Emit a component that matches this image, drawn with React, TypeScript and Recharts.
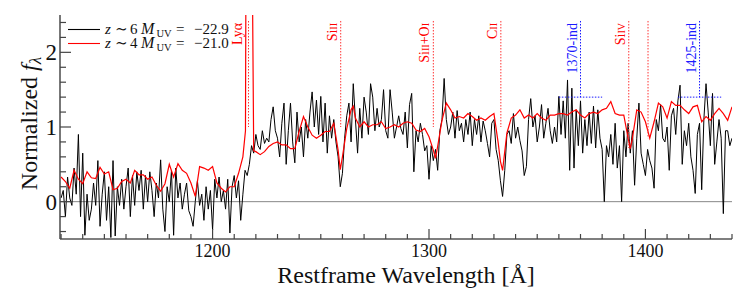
import React from 'react';
import { ComposedChart, Line, XAxis, YAxis, ReferenceLine } from 'recharts';

// ---------- data ----------
// z~6 composite (black), 1 Å grid starting at 1130 Å
const blackStart = 1130;
const blackFlux = [
  0.05, 0.15, -0.2, 0.33, 0.05, -0.05, 0.45, 0.1, 0.9, -0.2,
  0.65, -0.45, 0.1, -0.25, -0.1, 0.25, -0.05, 0.55, -0.33, 0.1,
  0.4, -0.25, 0.2, -0.48, 0.55, -0.46, 0.2, -0.05, 0.3, -0.1,
  0.2, 0.45, -0.2, 0.35, -0.05, 0.4, 0.15, 0.42, -0.1, 0.35,
  0.0, 0.4, 0.15, -0.2, 0.25, 0.05, 0.56, -0.1, -0.4, 0.2,
  0.0, 0.42,
  -0.45, 0.45, 0.05, 0.25, -0.1, 0.1, 0.25, -0.12, -0.2, -0.33,
  0.0, 0.28, -0.05, 0.1, -0.25, 0.2, -0.1, 0.15, -0.38, 0.3,
  0.05, 0.33, 0.0, 0.15, -0.1, 0.3, -0.42, 0.2, 0.35, 0.05,
  0.28, -0.25, 0.1, 0.42, 0.35, 0.5, 0.75, 0.65, 0.9, 0.75,
  0.7, 0.95, 0.78, 0.85, 0.8, 1.1, 1.27, 0.95, 0.85, 0.6,
  1.05, 1.32,
  0.5, 0.95, 1.32, 0.8, 0.52, 1.2, 0.8, 1.0, 0.6, 1.1,
  0.85, 1.2, 1.47, 1.0, 1.36, 0.9, 1.41, 0.8, 1.32, 0.65,
  1.15, 0.85, 1.1, 0.8, 0.6, 0.2, 0.38, 0.85, 1.15, 1.32,
  0.8, 1.58, 1.1, 0.65, 1.25, 0.85, 1.4, 1.2, 0.9, 1.58,
  1.4, 0.95, 1.25, 1.0, 1.1, 1.5, 0.95, 0.85, 1.5, 1.2,
  0.85,
  1.0, 1.15, 0.98, 0.9, 1.2, 0.72, 1.3, 1.45, 0.4, 0.95,
  0.8, 1.05, 0.9, 0.68, 0.75, 0.3, 0.75, 0.55, 0.7, 0.42,
  0.95, 1.1, 1.65, 1.1, 0.9, 1.0, 1.2, 0.85, 1.22, 0.95,
  1.05, 0.8, 1.1, 0.9, 1.2, 0.75, 1.1, 0.9, 1.15, 0.8,
  1.08, 0.95, 0.78, 0.6, 1.05, 1.1, 0.7, 0.55, 0.28, 0.07,
  0.42, 0.9,
  0.95, 0.78, 1.18, 0.85, 1.0, 0.82, 0.68, 0.35, 0.47, 1.1,
  1.38, 1.0, 1.15, 0.8, 1.0, 1.3, 0.85, 1.05, 1.25, 0.95,
  0.78, 1.0, 0.8, 1.41, 0.9, 1.35, 0.85, 1.63, 0.42, 1.52,
  0.45, 1.23, 0.75, 1.35, 0.65, 1.1, 0.75, 1.2, 0.78, 1.28,
  0.72, 1.23, 0.85, 0.7, 0.0, 0.75, 0.6, 0.9, 0.5, 1.05,
  0.45, 0.75,
  0.0, 0.95, 0.6, 1.05, 0.65, 0.95, 0.22, 0.85, 1.32, 0.65,
  0.5, 0.35, 0.7, 0.55, 0.45, 0.18, 1.1, 0.95, 1.3, 0.85,
  0.8, 1.0, 0.42, 1.15, 1.25, 0.9, 1.35, 1.56, 0.5, 0.95,
  0.75, 1.05, 0.6, 0.42, 0.11, 0.9, 1.05, 0.16, 1.1, 1.58,
  1.2, 0.75, 1.45, 0.5, 0.8, 1.1, 0.85, -0.16, 0.95, 0.95,
  0.75, 0.85,
];

// z~4 composite (red)
const redWave = [
  1130, 1132, 1134, 1136, 1138, 1140, 1142, 1144, 1146, 1148,
  1150, 1152, 1154, 1156, 1158, 1160, 1162, 1164, 1166, 1168,
  1170, 1172, 1174, 1176, 1178, 1180, 1182, 1184, 1186, 1188,
  1190, 1192, 1194, 1196, 1198, 1200, 1202, 1204, 1206, 1208,
  1210, 1212, 1214, 1215.2, 1215.7, 1217.6, 1219, 1220, 1222, 1224,
  1226, 1228, 1230, 1232, 1234, 1236, 1238, 1240, 1242, 1244,
  1246, 1248, 1250, 1252, 1254, 1256, 1258, 1259, 1260, 1262,
  1264, 1265, 1266, 1268, 1270, 1272, 1274, 1276, 1278, 1280,
  1282, 1284, 1286, 1288, 1290, 1292, 1294, 1296, 1298, 1300,
  1302, 1303, 1304, 1306, 1308, 1310, 1312, 1314, 1316, 1318,
  1320, 1322, 1324, 1326, 1328, 1330, 1332, 1333, 1334, 1336,
  1338, 1340, 1342, 1344, 1346, 1348, 1350, 1352, 1354, 1356,
  1358, 1360, 1362, 1364, 1366, 1368, 1370, 1372, 1374, 1376,
  1378, 1380, 1382, 1384, 1386, 1388, 1390, 1392, 1393, 1394,
  1396, 1398, 1400, 1402, 1404, 1406, 1408, 1410, 1412, 1414,
  1416, 1418, 1420, 1422, 1424, 1426, 1428, 1430, 1432, 1434,
  1436, 1438, 1440,
];
const redFlux = [
  0.33, 0.27, 0.18, 0.42, 0.30, 0.24, 0.40, 0.32, 0.31, 0.46,
  0.37, 0.40, 0.16, 0.18, 0.27, 0.30, 0.25, 0.42, 0.36, 0.36,
  0.30, 0.33, 0.22, 0.14, 0.24, 0.50, 0.33, 0.51, 0.42, 0.38,
  0.25, 0.07, 0.47, 0.45, 0.42, 0.47, 0.25, 0.18, 0.13, 0.20,
  0.20, 0.38, 0.60, 0.95, 6.0, 6.0, 0.68, 0.67, 0.63, 0.67,
  0.74, 0.78, 0.80, 0.76, 0.76, 0.71, 0.71, 0.94, 1.14, 1.00,
  0.89, 0.85, 0.89, 0.94, 0.94, 1.05, 0.69, 0.43, 0.60, 0.98,
  1.23, 1.28, 1.12, 1.00, 1.07, 1.00, 1.03, 1.03, 1.07, 0.98,
  1.00, 1.03, 1.00, 1.05, 1.07, 1.05, 0.96, 0.94, 0.98, 0.87,
  0.69, 0.58, 0.74, 1.09, 1.32, 1.23, 1.12, 1.14, 1.12, 1.18,
  1.14, 1.09, 1.12, 1.09, 1.14, 1.18, 0.78, 0.54, 0.42, 0.92,
  1.12, 1.16, 1.23, 1.12, 1.16, 1.12, 1.18, 1.12, 1.09, 1.16,
  1.16, 1.18, 1.18, 1.16, 1.20, 1.23, 1.16, 1.12, 1.18, 1.20,
  1.18, 1.23, 1.25, 1.34, 1.18, 1.16, 1.16, 0.85, 0.71, 0.85,
  1.23, 1.20, 1.07, 0.85, 1.07, 1.32, 1.27, 1.12, 1.34, 1.29,
  1.29, 1.23, 1.18, 1.27, 1.29, 1.07, 1.14, 1.09, 1.18, 1.25,
  1.18, 1.09, 1.27,
];

const xDomain = [1129.5, 1440];
const yDomain = [-0.5, 2.5];
const xTicks = [
  1130, 1140, 1150, 1160, 1170, 1180, 1190, 1200, 1210, 1220, 1230, 1240,
  1250, 1260, 1270, 1280, 1290, 1300, 1310, 1320, 1330, 1340, 1350, 1360,
  1370, 1380, 1390, 1400, 1410, 1420, 1430, 1440,
];
const xMajor = [1200, 1300, 1400];
const yTicks = [-0.4, -0.2, 0, 0.2, 0.4, 0.6, 0.8, 1, 1.2, 1.4, 1.6, 1.8, 2, 2.2, 2.4];
const yMajor = [0, 1, 2];

// legend entries
const legendRows = [
  { z: '6', muv: '−22.9', color: '#000000' },
  { z: '4', muv: '−21.0', color: '#ff0000' },
];

// line identifications
const lineMarks = [
  { wave: 1216.6, top: 2.42, bottom: 1.0, dx: -7, parts: [['Lyα', false]] },
  { wave: 1259.2, top: 2.42, bottom: 1.0, dx: -4, parts: [['Si', false], ['II', true]] },
  { wave: 1302.0, top: 2.42, bottom: 1.0, dx: -4, parts: [['Si', false], ['II', true], ['+O', false], ['I', true]] },
  { wave: 1333.2, top: 2.42, bottom: 1.0, dx: -4, parts: [['C', false], ['II', true]] },
  { wave: 1392.3, top: 2.42, bottom: 0.72, dx: -4, parts: [['Si', false], ['IV', true]] },
  { wave: 1401.2, top: 2.42, bottom: 0.85, dx: -4, parts: [] as any[] },
];
const indexMarks = [
  { wave: 1370, lo: 1360, hi: 1380, top: 2.42, level: 1.4, label: '1370-ind' },
  { wave: 1425, lo: 1415, hi: 1435, top: 2.42, level: 1.4, label: '1425-ind' },
];

const blackData = blackFlux.map((v, i) => ({ x: blackStart + i, y: v }));
const redData = redWave.map((w, i) => ({ x: w, y: redFlux[i] }));

const SERIF = "'Liberation Serif', 'DejaVu Serif', serif";
const serif = { fontFamily: SERIF };
const RED = '#ff0000';
const BLUE = '#1a1aff';
const AXIS = '#555555';

const YTick = (props: any) => {
  const { x, y, payload } = props;
  const major = yMajor.includes(payload.value);
  return (
    <g>
      <line x1={x} x2={x + (major ? 11 : 6)} y1={y} y2={y} stroke="#444" strokeWidth={1.2} />
      {major && (
        <text x={x - 3} y={y + 8} textAnchor="end" fontSize={23} style={serif} fill="#111">
          {payload.value}
        </text>
      )}
    </g>
  );
};

const XTick = (props: any) => {
  const { x, y, payload } = props;
  const major = xMajor.includes(payload.value);
  return (
    <g>
      <line x1={x} x2={x} y1={y} y2={y - (major ? 10 : 5)} stroke="#444" strokeWidth={1.2} />
      {major && (
        <text x={x} y={y + 18} textAnchor="middle" fontSize={18} style={serif} fill="#111">
          {payload.value}
        </text>
      )}
    </g>
  );
};

const makeLineLabel = (parts: any[], color: string, dx: number) => (props: any) => {
  const vb = props.viewBox || {};
  const x = (vb.x ?? 0) + dx;
  const y = (vb.y ?? 0) + 2;
  return (
    <text
      transform={`translate(${x},${y}) rotate(-90)`}
      textAnchor="end"
      fill={color}
      fontSize={14}
      style={serif}
    >
      {parts.map((p: any, i: number) => (
        <tspan key={i} fontSize={p[1] ? 10 : 14}>
          {p[0]}
        </tspan>
      ))}
    </text>
  );
};

const LegendRow = ({ row, y }: any) => (
  <g style={serif} fill="#111">
    <line x1={68} x2={100} y1={y - 4.5} y2={y - 4.5} stroke={row.color} strokeWidth={1.1} />
    <text x={105} y={y} fontSize={15} fontStyle="italic">z</text>
    <text x={115} y={y} fontSize={15}>∼</text>
    <text x={130} y={y} fontSize={15}>{row.z}</text>
    <text x={141} y={y} fontSize={16} fontStyle="italic">M</text>
    <text x={156.5} y={y + 2.5} fontSize={10.5}>UV</text>
    <text x={176} y={y} fontSize={15}>=</text>
    <text x={194} y={y} fontSize={15}>{row.muv}</text>
  </g>
);

export default function App() {
  return (
    <div style={{ position: 'absolute', left: 0, top: 0, width: 747, height: 299, background: '#fff' }}>
      <ComposedChart width={747} height={299} margin={{ top: 15, right: 15, bottom: 0, left: 0 }}>
        <XAxis
          type="number"
          dataKey="x"
          domain={xDomain}
          allowDataOverflow
          ticks={xTicks}
          interval={0}
          height={60}
          tickSize={0}
          tickMargin={0}
          tickLine={false}
          axisLine={{ stroke: AXIS, strokeWidth: 1.6 }}
          tick={<XTick />}
        />
        <XAxis
          xAxisId="top"
          orientation="top"
          type="number"
          domain={xDomain}
          allowDataOverflow
          height={0}
          tick={false}
          tickLine={false}
          axisLine={{ stroke: AXIS, strokeWidth: 1.6 }}
        />
        <YAxis
          type="number"
          domain={yDomain}
          allowDataOverflow
          ticks={yTicks}
          interval={0}
          width={60}
          tickSize={0}
          tickMargin={0}
          tickLine={false}
          axisLine={{ stroke: AXIS, strokeWidth: 1.6 }}
          tick={<YTick />}
        />
        <YAxis
          yAxisId="right"
          orientation="right"
          type="number"
          domain={yDomain}
          allowDataOverflow
          width={0}
          tick={false}
          tickLine={false}
          axisLine={{ stroke: AXIS, strokeWidth: 1.4 }}
        />
        <ReferenceLine y={0} stroke="#888" strokeWidth={1} />
        <Line
          data={blackData}
          dataKey="y"
          type="linear"
          stroke="#000"
          strokeWidth={1}
          dot={false}
          isAnimationActive={false}
        />
        <Line
          data={redData}
          dataKey="y"
          type="linear"
          stroke={RED}
          strokeWidth={1.2}
          dot={false}
          isAnimationActive={false}
        />
        {lineMarks.map((m, i) => (
          <ReferenceLine
            key={'l' + i}
            segment={[
              { x: m.wave, y: m.top },
              { x: m.wave, y: m.bottom },
            ]}
            stroke="#ff3333"
            strokeWidth={1}
            strokeDasharray="1.5 1.5"
            label={m.parts.length ? makeLineLabel(m.parts, RED, m.dx) : undefined}
          />
        ))}
        {indexMarks.map((m, i) => (
          <ReferenceLine
            key={'iv' + i}
            segment={[
              { x: m.wave, y: m.top },
              { x: m.wave, y: m.level },
            ]}
            stroke={BLUE}
            strokeWidth={1}
            strokeDasharray="1.5 1.5"
            label={makeLineLabel([[m.label, false]], BLUE, -4)}
          />
        ))}
        {indexMarks.map((m, i) => (
          <ReferenceLine
            key={'ih' + i}
            segment={[
              { x: m.lo, y: m.level },
              { x: m.hi, y: m.level },
            ]}
            stroke={BLUE}
            strokeWidth={1}
            strokeDasharray="1.5 1.5"
          />
        ))}
      </ComposedChart>
      <svg
        width={747}
        height={299}
        style={{ position: 'absolute', left: 0, top: 0, pointerEvents: 'none' }}
      >
        {legendRows.map((row, i) => (
          <LegendRow key={i} row={row} y={34 + i * 14} />
        ))}
        <text
          transform="translate(37,123.5) rotate(-90)"
          textAnchor="middle"
          fontSize={24}
          style={serif}
          fill="#111"
        >
          <tspan>Normalized </tspan>
          <tspan fontStyle="italic">f</tspan>
          <tspan fontStyle="italic" fontSize={17} dy={4}>λ</tspan>
        </text>
        <text x={406} y={283} textAnchor="middle" fontSize={24} style={serif} fill="#111">
          Restframe Wavelength [Å]
        </text>
      </svg>
    </div>
  );
}
